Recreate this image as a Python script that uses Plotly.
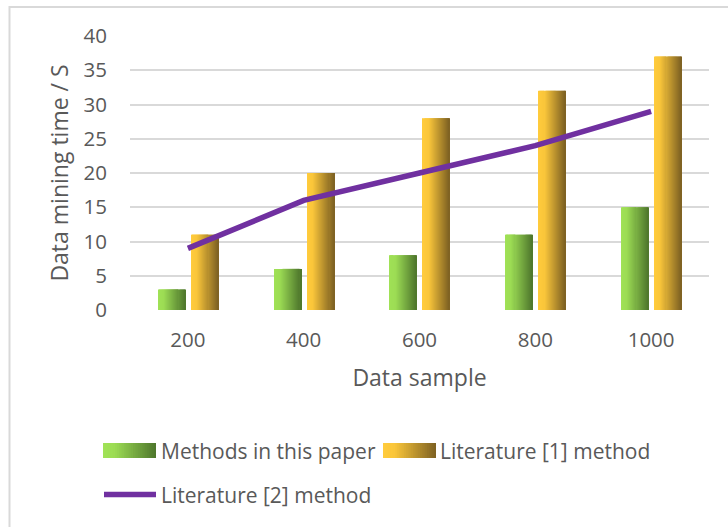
import plotly.graph_objects as go

# Data
samples = ["200", "400", "600", "800", "1000"]
this_paper = [3, 6, 8, 11, 15]
literature_1 = [11, 20, 28, 32, 37]
literature_2 = [9, 16, 20, 24, 29]
y_ticks = [0, 5, 10, 15, 20, 25, 30, 35, 40]

series_names = ["Methods in this paper", "Literature [1] method", "Literature [2] method"]

# Styling
FONT = "Open Sans"
TEXT = "#595959"
GRID = "#D9D9D9"
PURPLE = "#7030A0"
GREEN_STOPS = [(0.0, (160, 226, 86)), (0.22, (156, 220, 84)), (1.0, (78, 118, 44))]
GOLD_STOPS = [(0.0, (255, 203, 60)), (0.22, (250, 198, 58)), (1.0, (125, 97, 34))]

W, H = 728, 527
ML, MR, MT, MB = 130, 19, 36, 217
PW, PH = W - ML - MR, H - MT - MB

BAR_W = 0.233
N_STRIPS = 26


def grad(stops, t):
    for (t0, c0), (t1, c1) in zip(stops, stops[1:]):
        if t <= t1:
            f = 0 if t1 == t0 else (t - t0) / (t1 - t0)
            return "rgb(%d,%d,%d)" % tuple(round(a + (b - a) * f) for a, b in zip(c0, c1))
    return "rgb(%d,%d,%d)" % stops[-1][1]


def px_x(p):
    return (p - ML) / PW


def px_y(p):
    return (H - MB - p) / PH


fig = go.Figure()


def gradient_bars(values, offset, stops, name):
    dw = BAR_W / N_STRIPS
    for k in range(N_STRIPS):
        extra = 0.6 * dw if k < N_STRIPS - 1 else 0
        fig.add_trace(go.Bar(
            x=samples, y=values, name=name,
            offset=offset + k * dw, width=dw + extra,
            marker=dict(color=grad(stops, (k + 0.5) / N_STRIPS), line=dict(width=0)),
            showlegend=False, hoverinfo="skip" if k else "y+name",
        ))


gradient_bars(this_paper, -0.256, GREEN_STOPS, series_names[0])
gradient_bars(literature_1, 0.030, GOLD_STOPS, series_names[1])

fig.add_trace(go.Scatter(
    x=samples, y=literature_2, mode="lines", name=series_names[2],
    line=dict(color=PURPLE, width=5.5), showlegend=False,
))

shapes = []
# outer chart frame (left and top edges visible)
shapes.append(dict(type="rect", xref="paper", yref="paper",
                   x0=px_x(9.5), x1=px_x(760), y0=px_y(7), y1=px_y(560),
                   line=dict(color=GRID, width=2), fillcolor="rgba(0,0,0,0)", layer="below"))


# legend swatches
def gradient_swatch(x0, x1, y0, y1, stops, n=30):
    step = (x1 - x0) / n
    for k in range(n):
        shapes.append(dict(type="rect", xref="paper", yref="paper",
                           x0=px_x(x0 + k * step), x1=px_x(x0 + (k + 1.6) * step if k < n - 1 else x1),
                           y0=px_y(y1), y1=px_y(y0),
                           line=dict(width=0), fillcolor=grad(stops, (k + 0.5) / n)))


gradient_swatch(103, 156, 443, 458, GREEN_STOPS)
gradient_swatch(383, 436, 443, 458, GOLD_STOPS)
shapes.append(dict(type="line", xref="paper", yref="paper",
                   x0=px_x(104), x1=px_x(156), y0=px_y(494.5), y1=px_y(494.5),
                   line=dict(color=PURPLE, width=5.5)))

annotations = []
for text, xp, yp in [(series_names[0], 159, 450.5), (series_names[1], 438, 450.5), (series_names[2], 159, 494.5)]:
    annotations.append(dict(text=text, xref="paper", yref="paper", x=px_x(xp), y=px_y(yp),
                            xanchor="left", yanchor="middle", showarrow=False,
                            font=dict(family=FONT, size=21, color=TEXT)))

fig.update_layout(
    width=W, height=H,
    margin=dict(l=ML, r=MR, t=MT, b=MB, autoexpand=False),
    barmode="overlay",
    plot_bgcolor="white", paper_bgcolor="white",
    showlegend=False,
    font=dict(family=FONT, size=20.5, color=TEXT),
    shapes=shapes, annotations=annotations,
    xaxis=dict(
        type="category", showgrid=False, showline=False, zeroline=False,
        ticks="", ticklabelstandoff=15,
        tickfont=dict(family=FONT, size=20.5, color=TEXT),
        title=dict(text="Data sample", standoff=18,
                   font=dict(family=FONT, size=23, color=TEXT)),
    ),
    yaxis=dict(
        range=[0, 40], tickvals=y_ticks, showgrid=True, gridcolor=GRID, gridwidth=2,
        zeroline=False, showline=False, ticks="", ticklabelstandoff=22,
        tickfont=dict(family=FONT, size=20.5, color=TEXT),
        title=dict(text="Data mining time / S", standoff=8,
                   font=dict(family=FONT, size=23, color=TEXT)),
    ),
)

fig.write_html("out.html")
